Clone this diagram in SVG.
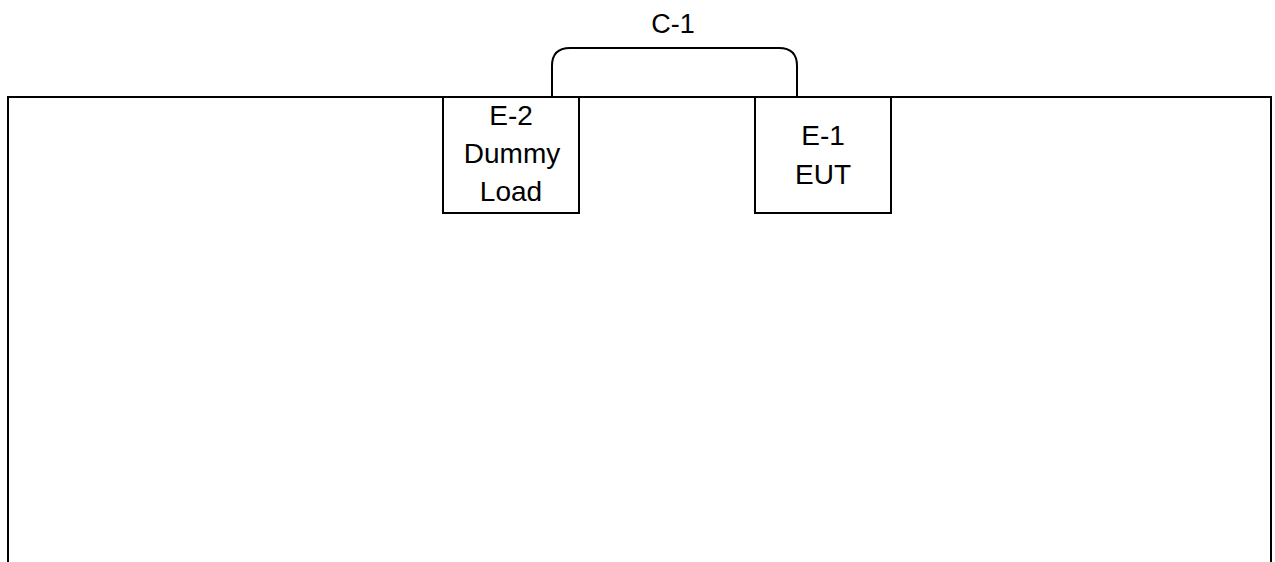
<svg xmlns="http://www.w3.org/2000/svg" width="1275" height="562" viewBox="0 0 1275 562">
<style>
.ln{fill:none;stroke:#000;stroke-width:2}
.bx{fill:#fff;stroke:#000;stroke-width:2}
.t{font-family:"Liberation Sans",Arial,sans-serif;font-size:28px;fill:#000;text-anchor:middle}
.c{font-size:27px}
</style>
<rect width="1275" height="562" fill="#fff"/>
<g id="table">
<path class="ln" d="M8,570 V97 H1271 V570"/>
</g>
<g id="connectors">
<path class="ln" d="M552,97 V66 Q552,48 570,48 H779 Q797,48 797,66 V97"/>
<text class="t c" x="673" y="33">C-1</text>
</g>
<g id="E-2">
<rect class="bx" x="443" y="97" width="136" height="116"/>
<text class="t" x="511" y="125">E-2</text>
<text class="t" x="512" y="163">Dummy</text>
<text class="t" x="511" y="201">Load</text>
</g>
<g id="E-1">
<rect class="bx" x="755" y="97" width="136" height="116"/>
<text class="t" x="823" y="145">E-1</text>
<text class="t" x="823" y="184">EUT</text>
</g>
</svg>
